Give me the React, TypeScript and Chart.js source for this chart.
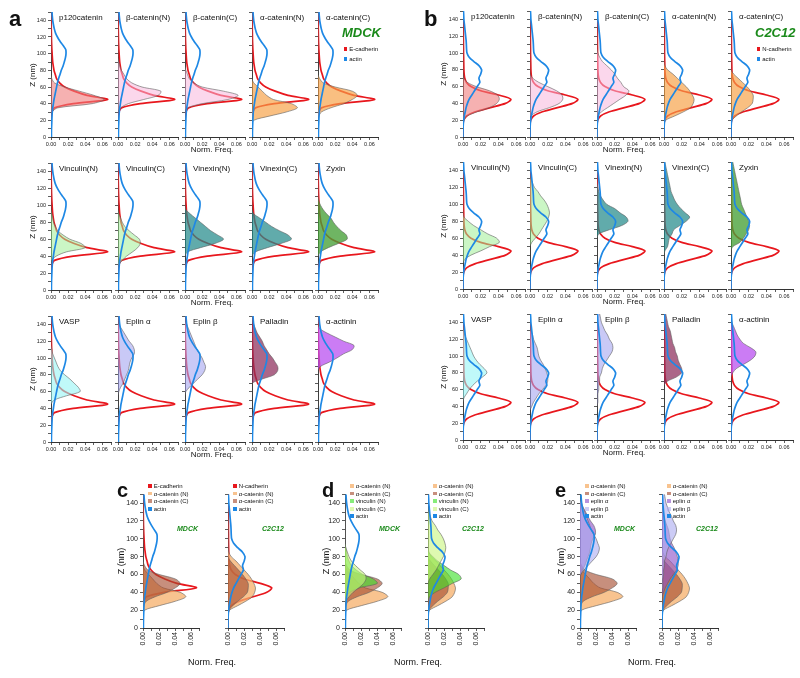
import React, { useEffect, useRef } from 'react';
import { Chart, registerables } from 'chart.js';

Chart.register(...registerables);

// ---------- data ----------
const Z_NM = [0, 5, 10, 15, 20, 25, 30, 35, 40, 45, 50, 55, 60, 65, 70, 75, 80, 85, 90, 95, 100, 105, 110, 115, 120, 125, 130, 135, 140, 145, 150];
const X_TICKS = [0, 0.01, 0.02, 0.03, 0.04, 0.05, 0.06, 0.07];
const X_TICK_LABELS = ['0.00', '', '0.02', '', '0.04', '', '0.06', ''];
const Y_TICKS = [0, 10, 20, 30, 40, 50, 60, 70, 80, 90, 100, 110, 120, 130, 140, 150];
const Y_TICK_LABELS = ['0', '', '20', '', '40', '', '60', '', '80', '', '100', '', '120', '', '140', ''];

const eCadherinMdck = [0, 0, 0, 0, 0, 0, 0.001, 0.004, 0.026, 0.066, 0.042, 0.027, 0.016, 0.01, 0.0065, 0.005, 0.0035, 0.0027, 0.002, 0.0016, 0.0013, 0.001, 0.0008, 0.0006, 0.0005, 0.0004, 0.0003, 0.0002, 0.0001, 0, 0];
const actinMdck = [0.0005, 0.0005, 0.0006, 0.0008, 0.001, 0.0012, 0.0015, 0.002, 0.0028, 0.0035, 0.0045, 0.0055, 0.0065, 0.0075, 0.0088, 0.0105, 0.012, 0.014, 0.0155, 0.0168, 0.0175, 0.0172, 0.014, 0.0105, 0.0075, 0.0052, 0.0038, 0.0028, 0.002, 0.0015, 0.0012];
const nCadherinC2c12 = [0, 0, 0, 0, 0.0008, 0.004, 0.014, 0.031, 0.048, 0.054, 0.04, 0.02, 0.009, 0.004, 0.002, 0.0013, 0.001, 0.0009, 0.0008, 0.0007, 0.0006, 0.0006, 0.0005, 0.0005, 0.0004, 0.0004, 0.0003, 0.0002, 0.0001, 0, 0];
const actinC2c12 = [0, 0, 0.0001, 0.0003, 0.0008, 0.0015, 0.0025, 0.0035, 0.005, 0.007, 0.01, 0.013, 0.016, 0.019, 0.018, 0.02, 0.021, 0.018, 0.012, 0.007, 0.0045, 0.004, 0.0038, 0.0035, 0.003, 0.0025, 0.002, 0.0015, 0.001, 0.0008, 0.0005];

// MDCK proteins
const p120Mdck = [0, 0, 0, 0, 0, 0, 0.001, 0.008, 0.048, 0.062, 0.05, 0.033, 0.016, 0.004, 0.001, 0, 0, 0, 0, 0, 0, 0, 0, 0, 0, 0, 0, 0, 0, 0, 0];
const betaCatNMdck = [0, 0, 0, 0, 0, 0, 0, 0.003, 0.012, 0.03, 0.047, 0.05, 0.028, 0.016, 0.01, 0.007, 0.004, 0.002, 0.001, 0, 0, 0, 0, 0, 0, 0, 0, 0, 0, 0, 0];
const betaCatCMdck = [0, 0, 0, 0, 0, 0, 0, 0.003, 0.02, 0.05, 0.062, 0.045, 0.02, 0.01, 0.005, 0.003, 0.001, 0, 0, 0, 0, 0, 0, 0, 0, 0, 0, 0, 0, 0, 0];
const alphaCatNMdck = [0, 0, 0, 0, 0.002, 0.02, 0.04, 0.053, 0.046, 0.025, 0.017, 0.012, 0.007, 0.002, 0, 0, 0, 0, 0, 0, 0, 0, 0, 0, 0, 0, 0, 0, 0, 0, 0];
const alphaCatCMdck = [0, 0, 0, 0, 0, 0.001, 0.004, 0.015, 0.03, 0.04, 0.046, 0.04, 0.02, 0.006, 0.002, 0, 0, 0, 0, 0, 0, 0, 0, 0, 0, 0, 0, 0, 0, 0, 0];
const vinculinNMdck = [0, 0, 0, 0, 0, 0, 0, 0.001, 0.006, 0.018, 0.04, 0.035, 0.022, 0.014, 0.008, 0.005, 0.003, 0.002, 0.001, 0, 0, 0, 0, 0, 0, 0, 0, 0, 0, 0, 0];
const vinculinCMdck = [0, 0, 0, 0, 0, 0, 0.001, 0.005, 0.01, 0.017, 0.023, 0.026, 0.025, 0.019, 0.013, 0.008, 0.005, 0.003, 0.001, 0, 0, 0, 0, 0, 0, 0, 0, 0, 0, 0, 0];
const vinexinNMdck = [0, 0, 0, 0, 0, 0, 0, 0, 0, 0.003, 0.018, 0.035, 0.045, 0.038, 0.03, 0.024, 0.018, 0.012, 0.006, 0.001, 0, 0, 0, 0, 0, 0, 0, 0, 0, 0, 0];
const vinexinCMdck = [0, 0, 0, 0, 0, 0, 0, 0, 0, 0.004, 0.018, 0.034, 0.046, 0.042, 0.032, 0.023, 0.016, 0.009, 0.002, 0, 0, 0, 0, 0, 0, 0, 0, 0, 0, 0, 0];
const zyxinMdck = [0, 0, 0, 0, 0, 0, 0, 0, 0, 0.003, 0.012, 0.024, 0.034, 0.033, 0.027, 0.022, 0.018, 0.015, 0.01, 0.006, 0.003, 0.001, 0, 0, 0, 0, 0, 0, 0, 0, 0];
const vaspMdck = [0, 0, 0, 0, 0, 0, 0, 0, 0, 0, 0.004, 0.018, 0.034, 0.032, 0.027, 0.022, 0.016, 0.011, 0.008, 0.006, 0.004, 0.002, 0.001, 0, 0, 0, 0, 0, 0, 0, 0];
const eplinAMdck = [0, 0, 0, 0, 0, 0, 0, 0, 0, 0, 0, 0, 0.001, 0.003, 0.006, 0.008, 0.01, 0.012, 0.013, 0.014, 0.016, 0.019, 0.019, 0.017, 0.013, 0.01, 0.007, 0.004, 0.001, 0, 0];
const eplinBMdck = [0, 0, 0, 0, 0, 0, 0, 0, 0, 0, 0, 0, 0.001, 0.005, 0.01, 0.015, 0.02, 0.023, 0.024, 0.022, 0.02, 0.017, 0.014, 0.012, 0.01, 0.008, 0.006, 0.004, 0.002, 0, 0];
const palladinMdck = [0, 0, 0, 0, 0, 0, 0, 0, 0, 0, 0, 0, 0, 0, 0, 0.012, 0.026, 0.03, 0.03, 0.027, 0.024, 0.02, 0.017, 0.014, 0.012, 0.009, 0.006, 0.004, 0.002, 0, 0];
const actininMdck = [0, 0, 0, 0, 0, 0, 0, 0, 0, 0, 0, 0, 0, 0, 0, 0, 0, 0, 0.003, 0.013, 0.022, 0.03, 0.04, 0.042, 0.03, 0.02, 0.01, 0.002, 0, 0, 0];

// C2C12 proteins
const p120C2c12 = [0, 0, 0, 0, 0.001, 0.005, 0.016, 0.03, 0.038, 0.041, 0.039, 0.03, 0.015, 0.005, 0.001, 0, 0, 0, 0, 0, 0, 0, 0, 0, 0, 0, 0, 0, 0, 0, 0];
const betaCatNC2c12 = [0, 0, 0, 0, 0, 0.001, 0.008, 0.022, 0.033, 0.037, 0.036, 0.03, 0.02, 0.01, 0.003, 0, 0, 0, 0, 0, 0, 0, 0, 0, 0, 0, 0, 0, 0, 0, 0];
const betaCatCC2c12 = [0, 0, 0, 0, 0, 0.001, 0.005, 0.012, 0.019, 0.026, 0.033, 0.036, 0.03, 0.027, 0.023, 0.02, 0.016, 0.011, 0.006, 0.003, 0.001, 0, 0, 0, 0, 0, 0, 0, 0, 0, 0];
const alphaCatNC2c12 = [0, 0, 0, 0, 0.002, 0.012, 0.022, 0.03, 0.033, 0.034, 0.032, 0.029, 0.025, 0.02, 0.015, 0.01, 0.004, 0.001, 0, 0, 0, 0, 0, 0, 0, 0, 0, 0, 0, 0, 0];
const alphaCatCC2c12 = [0, 0, 0, 0, 0.001, 0.006, 0.012, 0.019, 0.024, 0.025, 0.025, 0.022, 0.018, 0.013, 0.008, 0.003, 0, 0, 0, 0, 0, 0, 0, 0, 0, 0, 0, 0, 0, 0, 0];
const vinculinNC2c12 = [0, 0, 0, 0, 0, 0, 0, 0.002, 0.009, 0.02, 0.03, 0.041, 0.038, 0.028, 0.02, 0.012, 0.006, 0.001, 0, 0, 0, 0, 0, 0, 0, 0, 0, 0, 0, 0, 0];
const vinculinCC2c12 = [0, 0, 0, 0, 0, 0, 0, 0, 0, 0, 0, 0.002, 0.006, 0.01, 0.013, 0.016, 0.019, 0.021, 0.022, 0.021, 0.019, 0.016, 0.012, 0.009, 0.005, 0.003, 0.001, 0, 0, 0, 0];
const vinexinNC2c12 = [0, 0, 0, 0, 0, 0, 0, 0, 0, 0, 0, 0, 0, 0.002, 0.014, 0.028, 0.035, 0.033, 0.026, 0.02, 0.011, 0.007, 0.004, 0.002, 0.001, 0, 0, 0, 0, 0, 0];
const vinexinCC2c12 = [0, 0, 0, 0, 0, 0, 0, 0, 0, 0.001, 0.004, 0.005, 0.006, 0.009, 0.011, 0.018, 0.025, 0.029, 0.024, 0.019, 0.015, 0.012, 0.01, 0.008, 0.007, 0.006, 0.005, 0.004, 0.003, 0.002, 0.001];
const zyxinC2c12 = [0, 0, 0, 0, 0, 0, 0, 0, 0, 0, 0.002, 0.01, 0.014, 0.017, 0.02, 0.021, 0.02, 0.018, 0.016, 0.014, 0.012, 0.011, 0.01, 0.009, 0.008, 0.007, 0.006, 0.005, 0.004, 0.003, 0.002];
const vaspC2c12 = [0, 0, 0, 0, 0, 0, 0, 0, 0, 0, 0.001, 0.004, 0.007, 0.011, 0.016, 0.022, 0.027, 0.024, 0.019, 0.015, 0.012, 0.01, 0.008, 0.006, 0.004, 0.002, 0.001, 0, 0, 0, 0];
const eplinAC2c12 = [0, 0, 0, 0, 0, 0, 0, 0, 0.002, 0.004, 0.007, 0.01, 0.014, 0.018, 0.02, 0.02, 0.019, 0.017, 0.015, 0.012, 0.01, 0.009, 0.008, 0.006, 0.004, 0.003, 0.001, 0, 0, 0, 0];
const eplinBC2c12 = [0, 0, 0, 0, 0, 0, 0, 0, 0, 0.001, 0.001, 0.001, 0.002, 0.002, 0.003, 0.003, 0.005, 0.006, 0.008, 0.011, 0.014, 0.017, 0.018, 0.017, 0.014, 0.012, 0.009, 0.007, 0.005, 0.004, 0.003];
const palladinC2c12 = [0, 0, 0, 0, 0, 0, 0, 0, 0, 0, 0, 0, 0, 0, 0.004, 0.014, 0.02, 0.02, 0.018, 0.016, 0.015, 0.013, 0.012, 0.01, 0.009, 0.008, 0.007, 0.005, 0.004, 0.003, 0.002];
const actininC2c12 = [0, 0, 0, 0, 0, 0, 0, 0, 0, 0, 0, 0, 0, 0, 0, 0, 0.002, 0.006, 0.014, 0.022, 0.027, 0.028, 0.022, 0.014, 0.01, 0.007, 0.005, 0.003, 0.001, 0, 0];

const PROTEIN_NAMES = ['p120catenin', 'β-catenin(N)', 'β-catenin(C)', 'α-catenin(N)', 'α-catenin(C)', 'Vinculin(N)', 'Vinculin(C)', 'Vinexin(N)', 'Vinexin(C)', 'Zyxin', 'VASP', 'Eplin α', 'Eplin β', 'Palladin', 'α-actinin'];
const MDCK_PROTEINS = [p120Mdck, betaCatNMdck, betaCatCMdck, alphaCatNMdck, alphaCatCMdck, vinculinNMdck, vinculinCMdck, vinexinNMdck, vinexinCMdck, zyxinMdck, vaspMdck, eplinAMdck, eplinBMdck, palladinMdck, actininMdck];
const C2C12_PROTEINS = [p120C2c12, betaCatNC2c12, betaCatCC2c12, alphaCatNC2c12, alphaCatCC2c12, vinculinNC2c12, vinculinCC2c12, vinexinNC2c12, vinexinCC2c12, zyxinC2c12, vaspC2c12, eplinAC2c12, eplinBC2c12, palladinC2c12, actininC2c12];

// ---------- styles ----------
const FONT = '"Liberation Sans", Arial, Helvetica, sans-serif';
const RED = '#e8171d';
const BLUE = '#1e88e5';
const OUTLINE = 'rgba(95,95,95,0.75)';
const GREEN_TXT = '#1b8a1b';
const FILL_COLORS = [
  'rgba(240,125,125,0.6)', 'rgba(247,182,220,0.55)', 'rgba(247,182,220,0.55)',
  'rgba(246,160,70,0.68)', 'rgba(246,160,70,0.68)', 'rgba(160,238,150,0.55)',
  'rgba(160,238,150,0.55)', 'rgba(36,138,138,0.72)', 'rgba(36,138,138,0.72)',
  'rgba(70,160,55,0.78)', 'rgba(150,245,245,0.6)', 'rgba(165,165,240,0.6)',
  'rgba(165,165,240,0.6)', 'rgba(140,45,90,0.72)', 'rgba(185,80,240,0.75)',
];
const C_TAN = 'rgba(245,175,105,0.75)';
const C_BROWN = 'rgba(165,75,45,0.62)';
const C_VINN = 'rgba(60,225,40,0.62)';
const C_VINC = 'rgba(200,245,125,0.6)';
const C_EPA = 'rgba(140,80,200,0.62)';
const C_EPB = 'rgba(170,170,240,0.6)';

type Curve = { values: number[]; color: string; fill?: string; width?: number; layer: number };

interface PlotProps { ax: number; top: number; w: number; h: number; curves: Curve[]; yLabels: boolean; rotX?: boolean; tick: number }

function Plot({ ax, top, w, h, curves, yLabels, rotX, tick }: PlotProps) {
  const ref = useRef<HTMLCanvasElement | null>(null);
  const padL = 30, padT = 6, padR = 8, padB = rotX ? 26 : 14;
  const W = padL + w + padR, H = padT + h + padB;
  useEffect(() => {
    const canvas = ref.current;
    if (!canvas) return;
    const datasets = curves.map((c) => ({
      data: Z_NM.map((z, i) => ({ x: c.values[i], y: z })),
      borderColor: c.color,
      borderWidth: c.width ?? 1.7,
      backgroundColor: c.fill ?? 'rgba(0,0,0,0)',
      fill: c.fill ? 'origin' : false,
      pointRadius: 0,
      tension: 0.3,
      order: c.layer,
    }));
    const tickFont = { size: tick, family: FONT };
    const chart = new Chart(canvas, {
      type: 'line',
      data: { datasets } as any,
      options: {
        responsive: false,
        maintainAspectRatio: false,
        animation: false,
        devicePixelRatio: 1,
        indexAxis: 'y',
        events: [],
        layout: { padding: { top: padT, right: padR, left: 0, bottom: 0 } },
        plugins: { legend: { display: false }, tooltip: { enabled: false } },
        scales: {
          x: {
            type: 'linear', min: 0, max: 0.07,
            afterFit: (s: any) => { s.height = padB; },
            afterBuildTicks: (s: any) => { s.ticks = X_TICKS.map((v) => ({ value: v })); },
            ticks: {
              autoSkip: false, font: tickFont, color: '#222', padding: 1,
              minRotation: rotX ? 90 : 0, maxRotation: rotX ? 90 : 0,
              callback: (_v: any, i: number) => X_TICK_LABELS[i],
            },
            grid: { drawOnChartArea: false, drawTicks: true, tickLength: 3, tickColor: '#333', tickWidth: 0.8 },
            border: { display: true, color: '#333', width: 1 },
          },
          y: {
            type: 'linear', min: 0, max: 150,
            afterFit: (s: any) => { s.width = padL; },
            afterBuildTicks: (s: any) => { s.ticks = Y_TICKS.map((v) => ({ value: v })); },
            ticks: {
              autoSkip: false, font: tickFont, color: '#222', padding: 2,
              callback: (_v: any, i: number) => (yLabels ? Y_TICK_LABELS[i] : ''),
            },
            grid: { drawOnChartArea: false, drawTicks: true, tickLength: 3, tickColor: '#333', tickWidth: 0.8 },
            border: { display: true, color: '#333', width: 1 },
          },
        },
      } as any,
    });
    return () => chart.destroy();
  }, []);
  return (
    <canvas ref={ref} width={W} height={H}
      style={{ position: 'absolute', left: ax - padL, top: top - padT, width: W, height: H }} />
  );
}

function T({ x, y, s, children, bold, italic, color, mid }: any) {
  const style: any = {
    position: 'absolute', left: x, top: y - 0.8465 * s, fontSize: s, lineHeight: 1,
    fontFamily: FONT, whiteSpace: 'nowrap', color: color ?? '#111',
    fontWeight: bold ? 700 : 400, fontStyle: italic ? 'italic' : 'normal',
  };
  if (mid) style.transform = 'translateX(-50%)';
  return <div style={style}>{children}</div>;
}

function VT({ cx, cy, s, children }: any) {
  return (
    <div style={{
      position: 'absolute', left: cx, top: cy, fontSize: s, lineHeight: 1, fontFamily: FONT,
      whiteSpace: 'nowrap', color: '#111', transform: 'translate(-50%,-50%) rotate(-90deg)',
    }}>{children}</div>
  );
}

function LegendItem({ x, y, color, s, text }: any) {
  return (
    <>
      <div style={{ position: 'absolute', left: x, top: y - s * 0.68, width: s * 0.66, height: s * 0.66, background: color }} />
      <T x={x + s * 0.95} y={y} s={s}>{text}</T>
    </>
  );
}

const A_AXES = [51, 118, 185, 252, 318];
const B_AXES = [463, 530, 597, 664, 731];
const A_ROWS = [{ top: 12, h: 125 }, { top: 163, h: 127 }, { top: 316, h: 126 }];
const B_ROWS = [{ top: 11, h: 126 }, { top: 162, h: 127 }, { top: 314, h: 126 }];

function GridPanel({ axes, rows, w, cad, actin, proteins, letter, letterX, zx, nfx, cellName, cadName }: any) {
  const items: any[] = [];
  proteins.forEach((vals: number[], i: number) => {
    const r = rows[Math.floor(i / 5)];
    const ax = axes[i % 5];
    items.push(
      <Plot key={'p' + i} ax={ax} top={r.top} w={w} h={r.h} tick={5.5} yLabels={i % 5 === 0}
        curves={[
          { values: cad, color: RED, width: 1.7, layer: 2 },
          { values: vals, color: OUTLINE, fill: FILL_COLORS[i], width: 0.8, layer: 1 },
          { values: actin, color: BLUE, width: 1.7, layer: 0 },
        ]} />,
    );
    items.push(<T key={'t' + i} x={ax + 8} y={r.top + 9} s={8}>{PROTEIN_NAMES[i]}</T>);
  });
  rows.forEach((r: any, k: number) => {
    items.push(<VT key={'z' + k} cx={zx} cy={r.top + r.h / 2} s={8}>Z (nm)</VT>);
    items.push(<T key={'n' + k} x={nfx} y={r.top + r.h + 15.5} s={8} mid>Norm. Freq.</T>);
  });
  const lx = axes[4] + 24;
  items.push(<T key="L" x={letterX} y={27} s={22} bold>{letter}</T>);
  items.push(<T key="cell" x={lx} y={37} s={13} bold italic color={GREEN_TXT}>{cellName}</T>);
  items.push(<LegendItem key="l1" x={lx + 1.5} y={51} color={RED} s={6} text={cadName} />);
  items.push(<LegendItem key="l2" x={lx + 1.5} y={61} color={BLUE} s={6} text="actin" />);
  return <>{items}</>;
}

const CE_TOP = 494;
const CE_H = 134;
const CE_W = 58;

function PairPanel({ letter, letterX, axes, zx, nfx, mdckCurves, c2Curves, mdckLegend, c2Legend }: any) {
  const legendTop = 488;
  const step = 7.6;
  return (
    <>
      <T x={letterX} y={497} s={20} bold>{letter}</T>
      <Plot ax={axes[0]} top={CE_TOP} w={CE_W} h={CE_H} tick={7} yLabels rotX curves={mdckCurves} />
      <Plot ax={axes[1]} top={CE_TOP} w={CE_W} h={CE_H} tick={7} yLabels={false} rotX curves={c2Curves} />
      {mdckLegend.map((l: any, i: number) => (
        <LegendItem key={'m' + i} x={axes[0] + 5} y={legendTop + i * step} color={l[1]} s={6} text={l[0]} />
      ))}
      {c2Legend.map((l: any, i: number) => (
        <LegendItem key={'c' + i} x={axes[1] + 5} y={legendTop + i * step} color={l[1]} s={6} text={l[0]} />
      ))}
      <T x={axes[0] + 34} y={531} s={7} bold italic color={GREEN_TXT}>MDCK</T>
      <T x={axes[1] + 34} y={531} s={7} bold italic color={GREEN_TXT}>C2C12</T>
      <VT cx={zx} cy={CE_TOP + CE_H / 2} s={9}>Z (nm)</VT>
      <T x={nfx} y={666} s={9} mid>Norm. Freq.</T>
    </>
  );
}

export default function App() {
  const fillC = (values: number[], fill: string, layer: number): Curve => ({ values, color: OUTLINE, fill, width: 0.8, layer });
  const lineC = (values: number[], color: string, layer: number): Curve => ({ values, color, width: 1.7, layer });
  return (
    <div style={{ position: 'absolute', left: 0, top: 0, width: 800, height: 678, background: '#fff', overflow: 'hidden' }}>
      <GridPanel axes={A_AXES} rows={A_ROWS} w={60} cad={eCadherinMdck} actin={actinMdck} proteins={MDCK_PROTEINS}
        letter="a" letterX={9} zx={33} nfx={212} cellName="MDCK" cadName="E-cadherin" />
      <GridPanel axes={B_AXES} rows={B_ROWS} w={62} cad={nCadherinC2c12} actin={actinC2c12} proteins={C2C12_PROTEINS}
        letter="b" letterX={424} zx={444} nfx={624} cellName="C2C12" cadName="N-cadherin" />

      <PairPanel letter="c" letterX={117} axes={[143, 228]} zx={121} nfx={212}
        mdckCurves={[lineC(eCadherinMdck, RED, 3), fillC(alphaCatNMdck, C_TAN, 2), fillC(alphaCatCMdck, C_BROWN, 1), lineC(actinMdck, BLUE, 0)]}
        c2Curves={[lineC(nCadherinC2c12, RED, 3), fillC(alphaCatNC2c12, C_TAN, 2), fillC(alphaCatCC2c12, C_BROWN, 1), lineC(actinC2c12, BLUE, 0)]}
        mdckLegend={[['E-cadherin', RED], ['α-catenin (N)', C_TAN], ['α-catenin (C)', C_BROWN], ['actin', BLUE]]}
        c2Legend={[['N-cadherin', RED], ['α-catenin (N)', C_TAN], ['α-catenin (C)', C_BROWN], ['actin', BLUE]]} />

      <PairPanel letter="d" letterX={322} axes={[345, 428]} zx={326} nfx={418}
        mdckCurves={[fillC(alphaCatNMdck, C_TAN, 4), fillC(alphaCatCMdck, C_BROWN, 3), fillC(vinculinNMdck, C_VINN, 2), fillC(vinculinCMdck, C_VINC, 1), lineC(actinMdck, BLUE, 0)]}
        c2Curves={[fillC(alphaCatNC2c12, C_TAN, 4), fillC(alphaCatCC2c12, C_BROWN, 3), fillC(vinculinNC2c12, C_VINN, 2), fillC(vinculinCC2c12, C_VINC, 1), lineC(actinC2c12, BLUE, 0)]}
        mdckLegend={[['α-catenin (N)', C_TAN], ['α-catenin (C)', C_BROWN], ['vinculin (N)', C_VINN], ['vinculin (C)', C_VINC], ['actin', BLUE]]}
        c2Legend={[['α-catenin (N)', C_TAN], ['α-catenin (C)', C_BROWN], ['vinculin (N)', C_VINN], ['vinculin (C)', C_VINC], ['actin', BLUE]]} />

      <PairPanel letter="e" letterX={555} axes={[580, 662]} zx={561} nfx={652}
        mdckCurves={[fillC(alphaCatNMdck, C_TAN, 4), fillC(alphaCatCMdck, C_BROWN, 3), fillC(eplinAMdck, C_EPA, 2), fillC(eplinBMdck, C_EPB, 1), lineC(actinMdck, BLUE, 0)]}
        c2Curves={[fillC(alphaCatNC2c12, C_TAN, 4), fillC(alphaCatCC2c12, C_BROWN, 3), fillC(eplinAC2c12, C_EPA, 2), fillC(eplinBC2c12, C_EPB, 1), lineC(actinC2c12, BLUE, 0)]}
        mdckLegend={[['α-catenin (N)', C_TAN], ['α-catenin (C)', C_BROWN], ['eplin α', C_EPA], ['eplin β', C_EPB], ['actin', BLUE]]}
        c2Legend={[['α-catenin (N)', C_TAN], ['α-catenin (C)', C_BROWN], ['eplin α', C_EPA], ['eplin β', C_EPB], ['actin', BLUE]]} />
    </div>
  );
}
